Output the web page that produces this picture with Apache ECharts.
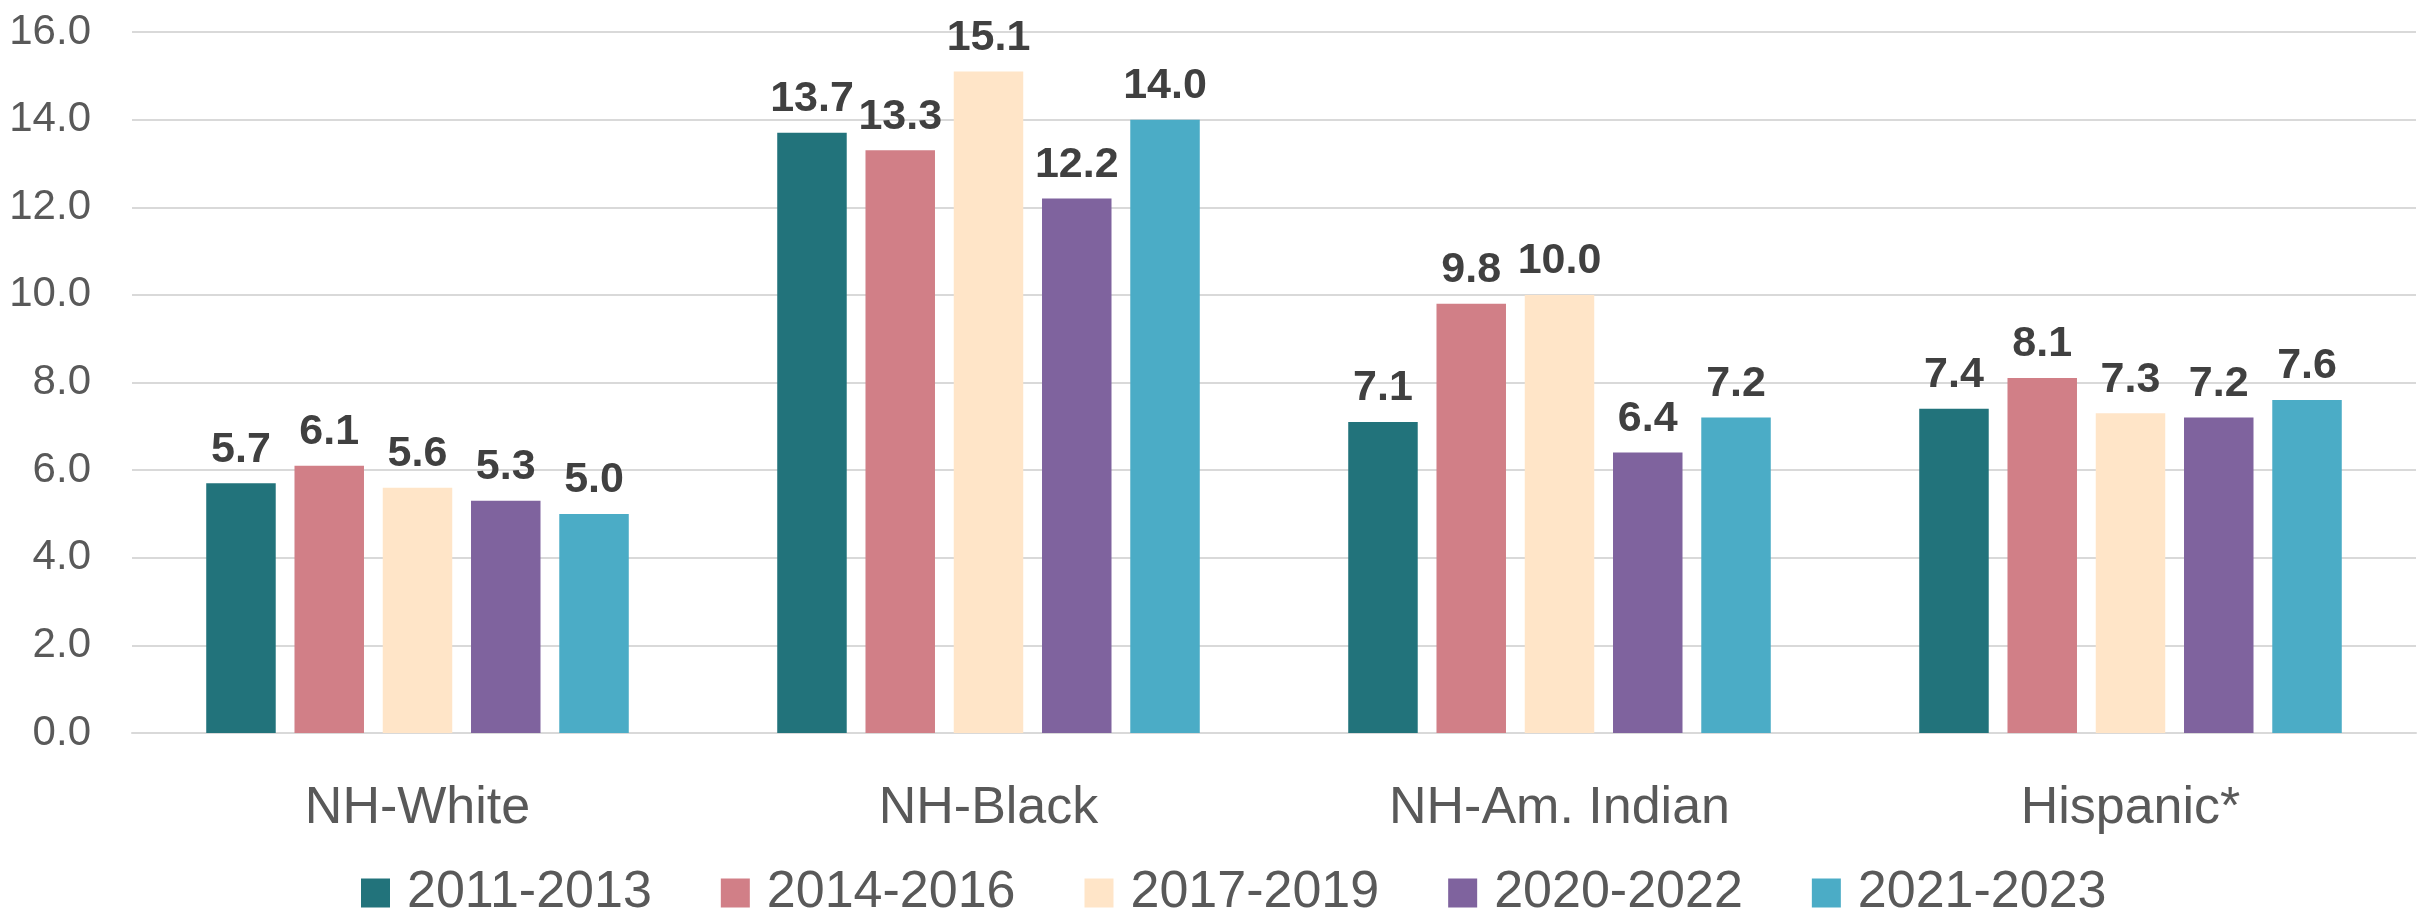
<!DOCTYPE html>
<html>
<head>
<meta charset="utf-8">
<script src="https://cdn.jsdelivr.net/npm/echarts@6/dist/echarts.min.js"></script>
<style>
  html, body { margin: 0; padding: 0; background: #fff; }
  #chart { width: 2418px; height: 911px; }
</style>
</head>
<body>
<div id="chart"></div>
<script>
// 数据
var categories = ['NH-White', 'NH-Black', 'NH-Am. Indian', 'Hispanic*'];
var periods = ['2011-2013', '2014-2016', '2017-2019', '2020-2022', '2021-2023'];
var colors = ['#22737B', '#D17F87', '#FFE5C8', '#7F639E', '#4BACC6'];
var v2011 = [5.7, 13.7, 7.1, 7.4];
var v2014 = [6.1, 13.3, 9.8, 8.1];
var v2017 = [5.6, 15.1, 10.0, 7.3];
var v2020 = [5.3, 12.2, 6.4, 7.2];
var v2021 = [5.0, 14.0, 7.2, 7.6];
var values = [v2011, v2014, v2017, v2020, v2021];

var font = '"Liberation Sans", Arial, sans-serif';

var myChart = echarts.init(document.getElementById('chart'));

var series = periods.map(function (p, i) {
    return {
        name: p,
        type: 'bar',
        data: values[i],
        barGap: '27%',
        barCategoryGap: '26%',
        itemStyle: { color: colors[i] },
        label: {
            show: true,
            position: 'top',
            distance: 12,
            formatter: function (params) { return params.value.toFixed(1); },
            fontFamily: font,
            fontWeight: 'bold',
            fontSize: 43,
            color: '#404040'
        }
    };
});

var option = {
    animation: false,
    color: colors,
    grid: { left: 132, right: 2, top: 32, bottom: 178 },
    legend: {
        data: periods,
        top: 862,
        left: 356,
        itemWidth: 29,
        itemHeight: 29,
        itemGap: 69,
        icon: 'rect',
        textStyle: { fontFamily: font, fontSize: 52, color: '#595959', padding: [0, 0, 0, 12] }
    },
    xAxis: {
        type: 'category',
        data: categories,
        axisLine: { lineStyle: { color: '#D9D9D9', width: 2 } },
        axisTick: { show: false },
        axisLabel: { margin: 50, fontFamily: font, fontSize: 52, color: '#595959' }
    },
    yAxis: {
        type: 'value',
        min: 0,
        max: 16,
        interval: 2,
        axisLine: { show: false },
        axisTick: { show: false },
        splitLine: { lineStyle: { color: '#D9D9D9', width: 2 } },
        axisLabel: {
            margin: 41,
            fontFamily: font,
            fontSize: 42,
            color: '#595959',
            formatter: function (v) { return v.toFixed(1); }
        }
    },
    series: series
};

myChart.setOption(option);
</script>
</body>
</html>
